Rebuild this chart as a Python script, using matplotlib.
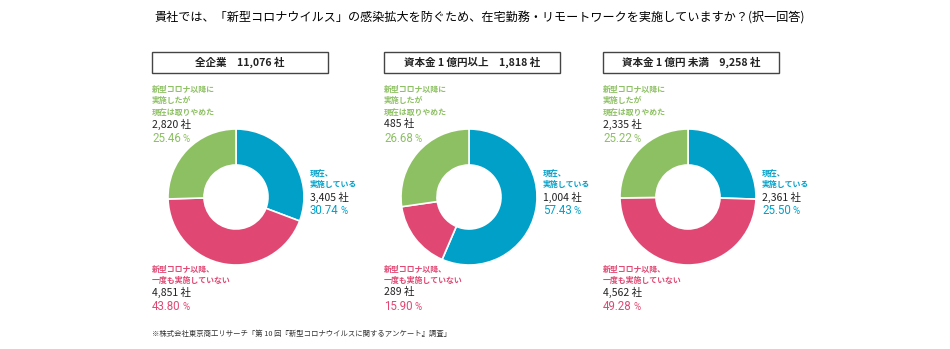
import matplotlib.pyplot as plt
from matplotlib.patches import Rectangle

plt.rcParams['font.family'] = ['Noto Sans CJK JP', 'DejaVu Sans']

W, H = 950, 349

# data
groups = ['全企業', '資本金 1 億円以上', '資本金 1 億円 未満']
totals = ['11,076', '1,818', '9,258']
implementing = [3405, 1004, 2361]
never = [4851, 289, 4562]
stopped = [2820, 485, 2335]
pct_implementing = ['30.74', '57.43', '25.50']
pct_never = ['43.80', '15.90', '49.28']
pct_stopped = ['25.46', '26.68', '25.22']

lbl_implementing = '現在、\n実施している'
lbl_never = '新型コロナ以降、\n一度も実施していない'
lbl_stopped = '新型コロナ以降に\n実施したが\n現在は取りやめた'

c_blue = '#00a0c9'
c_pink = '#e04873'
c_green = '#8dc063'

title = '貴社では、「新型コロナウイルス」の感染拡大を防ぐため、在宅勤務・リモートワークを実施していますか？(択一回答)'
note = '※株式会社東京商工リサーチ「第 10 回『新型コロナウイルスに関するアンケート』調査」'


def px(x, y):
    return x / W, 1 - y / H


fig = plt.figure(figsize=(W / 100, H / 100), dpi=100)
renderer = fig.canvas.get_renderer()


def pct_text(x, y, value, color):
    t = fig.text(*px(x, y), value, ha='left', va='center', fontsize=8.3,
                 color=color, family=['Roboto', 'Noto Sans CJK JP'])
    bb = t.get_window_extent(renderer)
    fig.text(*px(x + bb.width + 1.5, y + 0.5), '%', ha='left', va='center', fontsize=7,
             color=color, family=['Roboto', 'Noto Sans CJK JP'])


fig.text(*px(480, 18), title, ha='center', va='center', fontsize=8.7)
fig.text(*px(152, 334), note, ha='left', va='center', fontsize=5.3, color='#333333')

centers = [236, 469, 688]
box_left = [152, 384, 603]
R = 68
r_in = 32

for i, cx in enumerate(centers):
    cy = 197
    ax = fig.add_axes([(cx - R) / W, 1 - (cy + R) / H, 2 * R / W, 2 * R / H])
    ax.pie([implementing[i], never[i], stopped[i]],
           colors=[c_blue, c_pink, c_green], startangle=90, counterclock=False,
           radius=1, wedgeprops=dict(width=1 - r_in / R, edgecolor='white', linewidth=1.2))
    ax.set_xlim(-1, 1)
    ax.set_ylim(-1, 1)
    ax.set_aspect('equal')
    ax.axis('off')

    # header box
    bx = box_left[i]
    fig.patches.append(Rectangle(px(bx, 73), 176 / W, 21 / H, transform=fig.transFigure,
                                 facecolor='white', edgecolor='#444444', linewidth=1))
    fig.text(*px(bx + 88, 62.5), f'{groups[i]}　{totals[i]} 社', ha='center', va='center',
             fontsize=7.6, fontweight='bold', color='#222222')

    lx = bx
    # stopped (green) label, top-left
    fig.text(*px(lx, 101), lbl_stopped, ha='left', va='center', fontsize=5.7,
             fontweight='bold', color=c_green, linespacing=1.3)
    fig.text(*px(lx, 124), f'{stopped[i]:,} 社', ha='left', va='center', fontsize=7.5, color='#222222')
    pct_text(lx, 138, pct_stopped[i], c_green)

    # implementing (blue) label, right
    rx = cx + 74
    fig.text(*px(rx, 179), lbl_implementing, ha='left', va='center', fontsize=5.7,
             fontweight='bold', color=c_blue, linespacing=1.3)
    fig.text(*px(rx, 197), f'{implementing[i]:,} 社', ha='left', va='center', fontsize=7.5, color='#222222')
    pct_text(rx, 211, pct_implementing[i], c_blue)

    # never (pink) label, bottom-left
    fig.text(*px(lx, 275), lbl_never, ha='left', va='center', fontsize=5.7,
             fontweight='bold', color=c_pink, linespacing=1.3)
    fig.text(*px(lx, 292), f'{never[i]:,} 社', ha='left', va='center', fontsize=7.5, color='#222222')
    pct_text(lx, 307, pct_never[i], c_pink)

fig.savefig('out.png', dpi=100)
